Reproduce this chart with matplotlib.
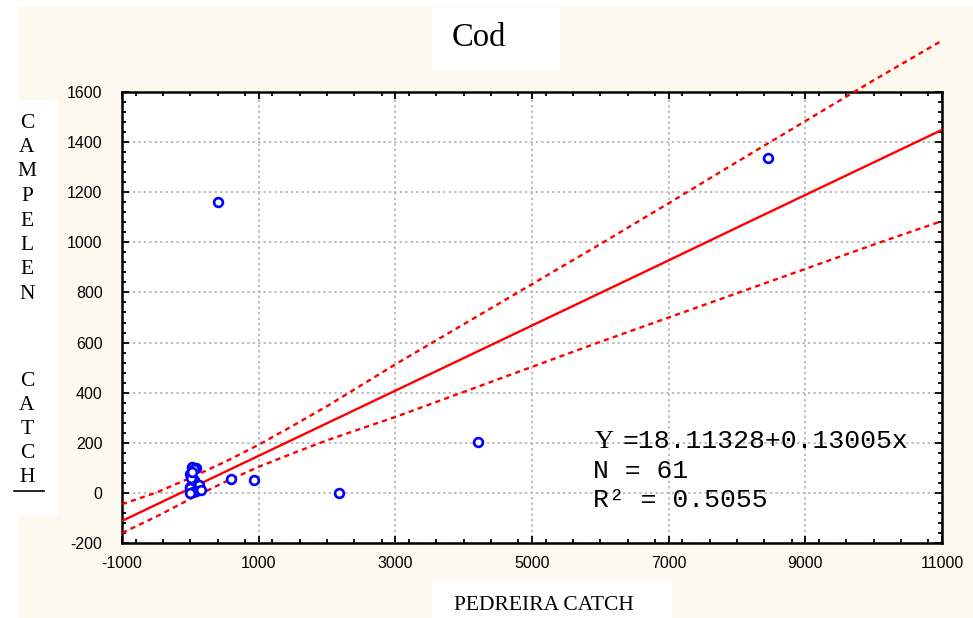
import matplotlib
matplotlib.use('Agg')
import matplotlib.pyplot as plt
import matplotlib.patches as mpatches
from matplotlib.ticker import MultipleLocator

matplotlib.rcParams['axes.unicode_minus'] = False

# observed catches (PEDREIRA, CAMPELEN)
pedreira = [400, 8450, 4210, 2180, 600, 930, 30, 90, 60, 0, 50, 40, 0, 0,
            120, 130, 90, 40, 0, 150, 10, 20]
campelen = [1160, 1336, 203, 0, 56, 52, 104, 98, 95, 75, 50, 40, 25, 20,
            20, 30, 8, 3, 0, 10, 60, 85]

# fitted line and 95% band at these x positions
band_x = [-1000, -500, 0, 500, 1000, 1500, 2000, 3000, 4000, 5000,
          6000, 7000, 8000, 9000, 10000, 11000]
fit_y = [-112, -47, 18, 83, 148, 213, 278, 408, 538, 668,
         798, 928, 1059, 1189, 1319, 1449]
upper_y = [-45, 1, 60, 123, 192, 268, 346, 513, 673, 833,
           993, 1156, 1321, 1484, 1647, 1805]
lower_y = [-160, -95, -24, 43, 104, 158, 210, 303, 403, 503,
           603, 700, 797, 894, 991, 1085]

x_ticks = [-1000, 1000, 3000, 5000, 7000, 9000, 11000]
y_ticks = [-200, 0, 200, 400, 600, 800, 1000, 1200, 1400, 1600]

title = 'Cod'
x_label = 'PEDREIRA CATCH'
y_label_top = 'CAMPELEN'
y_label_bottom = 'CATCH'
eq_text = ['=18.11328+0.13005x', 'N = 61', 'R\u00b2 = 0.5055']

W, H = 973, 618
CREAM = '#fdf9ee'
RED = '#ff0000'
BLUE = '#0000ff'


def px(x, y):
    return x / W, 1 - y / H


fig = plt.figure(figsize=(W / 100, H / 100), dpi=100, facecolor='white')

# background panels
fig.patches.append(mpatches.Rectangle(px(18, 618), 1, (618 - 6) / H, transform=fig.transFigure,
                                      facecolor=CREAM, edgecolor='none', zorder=-2))
for (x0, y0, x1, y1) in [(432, 7, 560, 70), (0, 100, 58, 515), (432, 582, 672, 618)]:
    fig.patches.append(mpatches.Rectangle(px(x0, y1), (x1 - x0) / W, (y1 - y0) / H,
                                          transform=fig.transFigure, facecolor='white',
                                          edgecolor='none', zorder=-1))

ax = fig.add_axes([122 / W, 1 - 543 / H, (942 - 122) / W, (543 - 92) / H])
ax.set_zorder(2)
ax.set_facecolor('white')

ax.plot(band_x, fit_y, color=RED, lw=1.7, zorder=3)
ax.plot(band_x, upper_y, color=RED, lw=1.7, dashes=(2.2, 1.8), zorder=3, clip_on=False)
ax.plot(band_x, lower_y, color=RED, lw=1.7, dashes=(2.2, 1.8), zorder=3)
ax.scatter(pedreira, campelen, s=40, facecolors='white', edgecolors=BLUE, linewidths=1.9, zorder=4)

ax.set_xlim(-1000, 11000)
ax.set_ylim(-200, 1600)
ax.set_xticks(x_ticks)
ax.set_yticks(y_ticks)
ax.xaxis.set_minor_locator(MultipleLocator(400))
ax.yaxis.set_minor_locator(MultipleLocator(40))
ax.tick_params(which='both', direction='in', top=True, right=True, width=1.3, colors='black')
ax.tick_params(which='major', length=5, labelsize=11.5, pad=14)
ax.tick_params(axis='x', which='major', pad=9)
ax.tick_params(which='minor', length=3)
for lab in ax.get_xticklabels() + ax.get_yticklabels():
    lab.set_fontfamily('Liberation Sans')
for sp in ax.spines.values():
    sp.set_linewidth(1.8)

ax.grid(True, which='major', linestyle=(0, (1.2, 1.6)), color='#bcbcbc', lw=1.4, zorder=1)
ax.set_axisbelow(True)

# equation text
mono = dict(fontsize=19, family='Liberation Mono', va='baseline', ha='left', zorder=5)
fig.text(*px(595, 448), 'Y', fontsize=19, family='Liberation Serif', va='baseline', ha='left', zorder=5)
fig.text(*px(622, 448), eq_text[0], **mono)
fig.text(*px(593, 478), eq_text[1], **mono)
fig.text(*px(593, 507), eq_text[2], **mono)

# titles
fig.text(*px(479, 38), title, fontsize=23.5, family='Liberation Serif', ha='center', va='center')
fig.text(*px(544, 606), x_label, fontsize=15.5, family='Liberation Serif', ha='center', va='center')
for i, ch in enumerate(y_label_top):
    fig.text(*px(27, 123 + 24.5 * i), ch, fontsize=15.5, family='Liberation Serif', ha='center', va='center')
for i, ch in enumerate(y_label_bottom):
    fig.text(*px(27, 381 + 24 * i), ch, fontsize=15.5, family='Liberation Serif', ha='center', va='center')
fig.add_artist(plt.Line2D([14 / W, 44 / W], [1 - 491 / H, 1 - 491 / H], color='black', lw=1.2))

plt.savefig('out.png', dpi=100, facecolor=fig.get_facecolor())
